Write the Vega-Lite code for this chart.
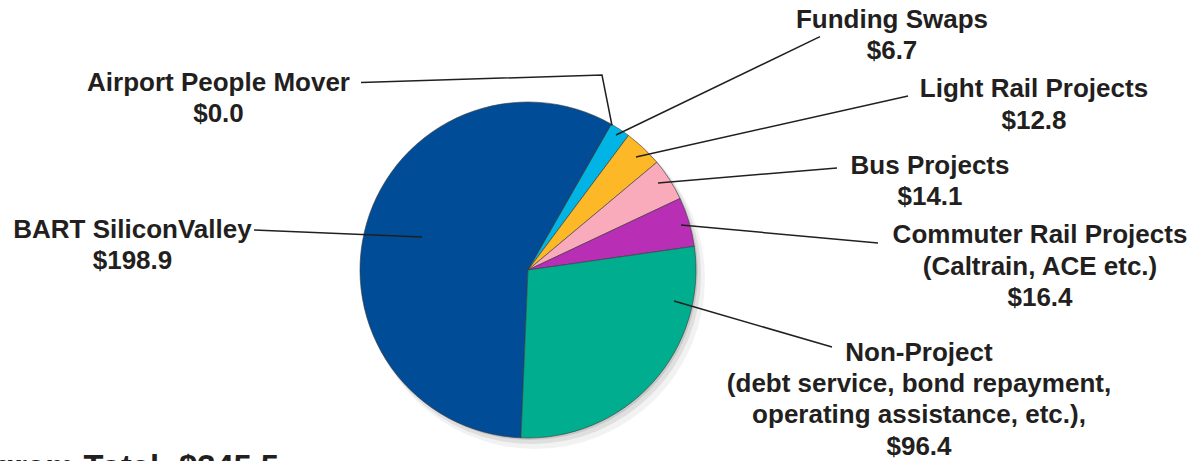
{
  "$schema": "https://vega.github.io/schema/vega-lite/v6.json",
  "width": 1198,
  "height": 461,
  "padding": 0,
  "autosize": {"type": "none"},
  "background": "#ffffff",
  "view": {"stroke": null},
  "config": {"text": {"font": "Liberation Sans"}},
  "datasets": {
    "slices": [
      {"name": "BART SiliconValley", "value": 198.9, "ord": 1},
      {"name": "Airport People Mover", "value": 0.0, "ord": 2},
      {"name": "Funding Swaps", "value": 6.7, "ord": 3},
      {"name": "Light Rail Projects", "value": 12.8, "ord": 4},
      {"name": "Bus Projects", "value": 14.1, "ord": 5},
      {"name": "Commuter Rail Projects", "value": 16.4, "ord": 6},
      {"name": "Non-Project", "value": 96.4, "ord": 7}
    ],
    "labels": [
      {"text": "Funding Swaps\n$6.7", "u": 2.1667, "v": 1.4405},
      {"text": "Light Rail Projects\n$12.8", "u": 3.0119, "v": 1.028},
      {"text": "Bus Projects\n$14.1", "u": 2.3929, "v": 0.5714},
      {"text": "Commuter Rail Projects\n(Caltrain, ACE etc.)\n$16.4", "u": 3.0476, "v": 0.1589},
      {"text": "Non-Project\n(debt service, bond repayment,\noperating assistance, etc.),\n$96.4", "u": 2.3274, "v": -0.5399},
      {"text": "Airport People Mover\n$0.0", "u": -1.8423, "v": 1.0655},
      {"text": "BART SiliconValley\n$198.9", "u": -2.3542, "v": 0.1905}
    ],
    "leaders": [
      {"id": "Airport", "k": 1, "u": -0.994, "v": 1.1161},
      {"id": "Airport", "k": 2, "u": 0.4405, "v": 1.1607},
      {"id": "Airport", "k": 3, "u": 0.5, "v": 0.8601},
      {"id": "Funding", "k": 1, "u": 1.7381, "v": 1.3887},
      {"id": "Funding", "k": 2, "u": 0.5238, "v": 0.8036},
      {"id": "Light", "k": 1, "u": 2.2619, "v": 1.0357},
      {"id": "Light", "k": 2, "u": 0.6429, "v": 0.6726},
      {"id": "Bus", "k": 1, "u": 1.8393, "v": 0.6071},
      {"id": "Bus", "k": 2, "u": 0.7738, "v": 0.5179},
      {"id": "Commuter", "k": 1, "u": 2.0833, "v": 0.1607},
      {"id": "Commuter", "k": 2, "u": 0.9107, "v": 0.2679},
      {"id": "NonProject", "k": 1, "u": 1.8095, "v": -0.4583},
      {"id": "NonProject", "k": 2, "u": 0.869, "v": -0.1845},
      {"id": "BART", "k": 1, "u": -1.631, "v": 0.2381},
      {"id": "BART", "k": 2, "u": -0.631, "v": 0.1964}
    ],
    "total": [
      {"text": "Program Total: $345.5", "u": -1.4821, "v": -1.2381}
    ],
    "center": [{"u": 0, "v": 0}]
  },
  "layer": [
    {
      "data": {"name": "center"},
      "mark": {"type": "arc", "radius": 170, "theta": 0, "theta2": 6.2832, "color": "#000000", "opacity": 0.05, "xOffset": 7, "yOffset": 9},
      "encoding": {
        "x": {"field": "u", "type": "quantitative", "scale": {"domain": [-3.142857, 3.988095], "nice": false, "zero": false}, "axis": null},
        "y": {"field": "v", "type": "quantitative", "scale": {"domain": [-1.136905, 1.607143], "nice": false, "zero": false}, "axis": null}
      }
    },
    {
      "data": {"name": "center"},
      "mark": {"type": "arc", "radius": 169, "theta": 0, "theta2": 6.2832, "color": "#000000", "opacity": 0.08, "xOffset": 4, "yOffset": 5},
      "encoding": {
        "x": {"field": "u", "type": "quantitative", "axis": null},
        "y": {"field": "v", "type": "quantitative", "axis": null}
      }
    },
    {
      "data": {"name": "center"},
      "mark": {"type": "arc", "radius": 168, "theta": 0, "theta2": 6.2832, "color": "#000000", "opacity": 0.1, "xOffset": 2, "yOffset": 2},
      "encoding": {
        "x": {"field": "u", "type": "quantitative", "axis": null},
        "y": {"field": "v", "type": "quantitative", "axis": null}
      }
    },
    {
      "data": {"name": "slices"},
      "mark": {"type": "arc", "radius": 168, "stroke": "#3a3a3a", "strokeWidth": 0.6},
      "encoding": {
        "x": {"datum": 0, "type": "quantitative"},
        "y": {"datum": 0, "type": "quantitative"},
        "theta": {"field": "value", "type": "quantitative", "stack": true, "scale": {"range": [3.1835, 9.4667]}},
        "order": {"field": "ord", "type": "quantitative"},
        "color": {
          "field": "name",
          "type": "nominal",
          "legend": null,
          "scale": {
            "domain": ["BART SiliconValley", "Airport People Mover", "Funding Swaps", "Light Rail Projects", "Bus Projects", "Commuter Rail Projects", "Non-Project"],
            "range": ["#004C97", "#00B5E6", "#00B5E6", "#FDB827", "#F9AABB", "#B82EB4", "#00AD8E"]
          }
        }
      }
    },
    {
      "data": {"name": "leaders"},
      "mark": {"type": "line", "color": "#231F20", "strokeWidth": 1.5},
      "encoding": {
        "x": {"field": "u", "type": "quantitative"},
        "y": {"field": "v", "type": "quantitative"},
        "detail": {"field": "id"},
        "order": {"field": "k", "type": "quantitative"}
      }
    },
    {
      "data": {"name": "labels"},
      "mark": {"type": "text", "fontSize": 26, "fontWeight": "bold", "color": "#231F20", "align": "center", "baseline": "alphabetic", "lineBreak": "\n", "lineHeight": 31.3},
      "encoding": {
        "x": {"field": "u", "type": "quantitative"},
        "y": {"field": "v", "type": "quantitative"},
        "text": {"field": "text"}
      }
    },
    {
      "data": {"name": "total"},
      "mark": {"type": "text", "fontSize": 32.7, "fontWeight": "bold", "color": "#231F20", "align": "right", "baseline": "alphabetic"},
      "encoding": {
        "x": {"field": "u", "type": "quantitative"},
        "y": {"field": "v", "type": "quantitative"},
        "text": {"field": "text"}
      }
    }
  ]
}
